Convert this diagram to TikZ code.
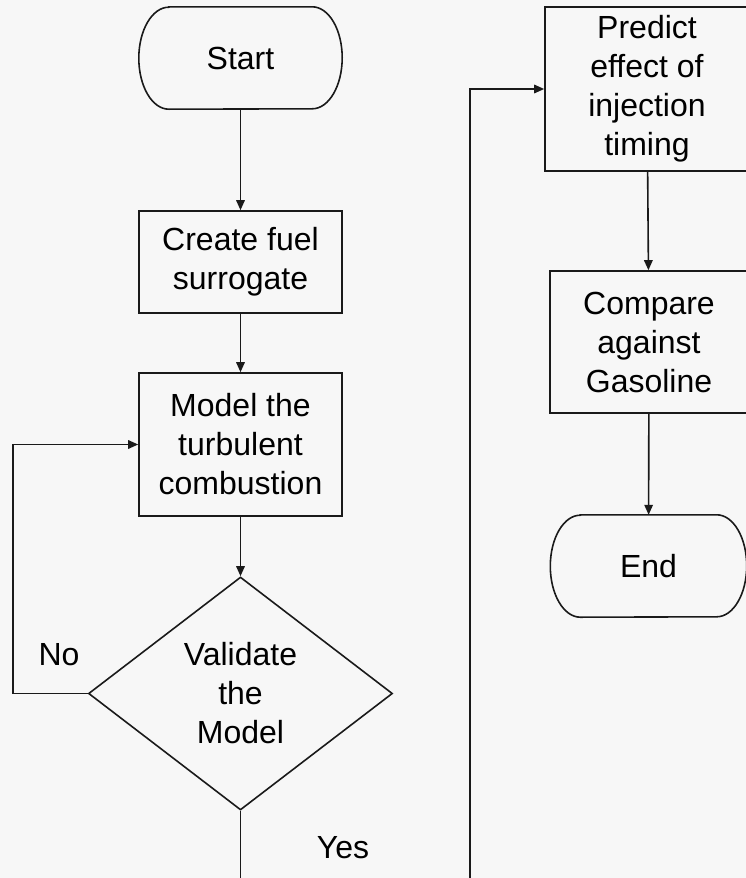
\documentclass[tikz,border=0pt]{standalone}
\usepackage{fontspec}
\setmainfont{Liberation Sans}
\usepackage{xcolor}
\usepackage{tikz}
\usetikzlibrary{arrows.meta,positioning,shapes.geometric}
\definecolor{flowbg}{HTML}{F7F7F7}
\definecolor{flowline}{HTML}{1A1A1A}

\begin{document}
\begin{tikzpicture}[x=1pt, y=-1pt,
  terminal/.style={minimum width=203pt, minimum height=102pt, align=center, inner sep=0pt, font=\fontsize{32pt}{39pt}\selectfont},
  outline/.style={draw=flowline, line width=1.6pt},
  process/.style={outline, minimum width=203pt, align=center, inner sep=0pt, font=\fontsize{32pt}{39pt}\selectfont},
  decision/.style={diamond, outline, aspect=1.3, minimum width=304pt, minimum height=233pt, align=center, inner sep=0pt, font=\fontsize{32pt}{39pt}\selectfont},
  note/.style={font=\fontsize{32pt}{39pt}\selectfont},
  arrow/.style={-{Triangle[length=10pt, width=8.5pt]}, line width=1.6pt, draw=flowline}
]
\fill[flowbg] (0,0) rectangle (746,878);
\useasboundingbox (0,0) rectangle (746,878);

\node[terminal] (start) at (240.5,58) {Start};
\node[process, minimum height=102pt] (fuel) at (240.5,262) {Create fuel\\surrogate};
\node[process, minimum height=143pt] (model) at (240.5,444.5) {Model the\\turbulent\\combustion};
\node[decision] (valid) at (240.5,693.5) {Validate\\the\\Model};

\node[process, minimum width=204pt, minimum height=164pt] (predict) at (647,89) {Predict\\effect of\\injection\\timing};
\node[process, minimum width=198pt, minimum height=142pt] (compare) at (649,342) {Compare\\against\\Gasoline};
\node[terminal, minimum width=196pt] (end) at (648.5,566) {End};

\node[note] (no) at (59,655) {No};
\node[note] (yes) at (343,848) {Yes};

% terminator outlines with flat elliptic ends
\foreach \t in {start,end}
  \draw[outline] ([xshift=30pt]\t.north west) -- ([xshift=-30pt]\t.north east)
    arc[start angle=90, end angle=-90, x radius=30pt, y radius=51pt]
    -- ([xshift=30pt]\t.south west)
    arc[start angle=270, end angle=90, x radius=30pt, y radius=51pt] -- cycle;

\coordinate (loop) at (13,693.5);
\coordinate (yesout) at (240.5,878);
\coordinate (yesin) at (470,878);

\foreach \a/\b in {start/fuel,fuel/model,model/valid,predict/compare,compare/end}
  \draw[arrow] (\a) -- (\b);
\draw[arrow] (valid.west) -- (loop) |- (model.west);
\draw[outline] (valid.south) -- (yesout);
\draw[arrow] (yesin) |- (predict.west);
\end{tikzpicture}
\end{document}
